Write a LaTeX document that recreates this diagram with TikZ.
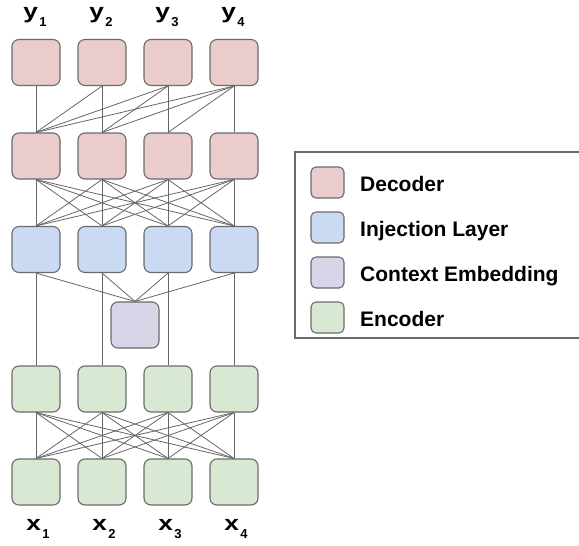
\documentclass[tikz,border=0pt]{standalone}
\usepackage{fontspec}
\setmainfont{Liberation Sans}
\usetikzlibrary{positioning}
\definecolor{decRosa}{HTML}{EACCCC}
\definecolor{injAzul}{HTML}{C9DAF2}
\definecolor{ctxLila}{HTML}{D9D4E8}
\definecolor{encVerde}{HTML}{D9E8D3}
\definecolor{bordeGris}{HTML}{6B6B6B}
\definecolor{wireGris}{HTML}{666666}

\begin{document}
\begin{tikzpicture}[x=1pt, y=-1pt,
    cell/.style={draw=bordeGris, line width=1.1pt, rounded corners=7pt,
      minimum width=48pt, minimum height=46pt, inner sep=0pt},
    wire/.style={draw=wireGris, line width=0.8pt},
    lbl/.style={anchor=base, font=\fontsize{21}{21}\selectfont\bfseries}]
    \useasboundingbox (0,0) rectangle (579,546);
    \foreach \i in {1,...,4} {
      \pgfmathsetmacro{\cx}{36+66*(\i-1)}
      \node[lbl] (ylab\i) at (\cx-1,18) {\scalebox{1.25}[1]{y}\kern1.5pt\raisebox{-8.5pt}{\fontsize{13}{13}\selectfont\i}};
      \node[cell, fill=decRosa] (dtop\i) at (\cx,62.5) {};
      \node[cell, fill=decRosa] (dmid\i) at (\cx,156) {};
      \node[cell, fill=injAzul] (inj\i) at (\cx,249.5) {};
      \node[cell, fill=encVerde] (encA\i) at (\cx,389) {};
      \node[cell, fill=encVerde] (encB\i) at (\cx,482) {};
      \node[lbl] (xlab\i) at (\cx+2,530) {\scalebox{1.25}[1]{x}\kern1.5pt\raisebox{-8.5pt}{\fontsize{13}{13}\selectfont\i}};
    }
    \node[cell, fill=ctxLila] (ctx) at (135,325) {};
    \foreach \j in {1,...,4}
      \foreach \i in {1,...,\j}
        \draw[wire] (dtop\j.south) -- (dmid\i.north);
    \foreach \i in {1,...,4} {
      \foreach \j in {1,...,4} {
        \draw[wire] (dmid\i.south) -- (inj\j.north);
        \draw[wire] (encA\i.south) -- (encB\j.north);
      }
      \draw[wire] (inj\i.south) -- (ctx.north);
      \draw[wire] (inj\i.south) -- (encA\i.north);
    }
    \draw[draw=bordeGris, line width=1.1pt] (579,152) -- (295,152) -- (295,338) -- (579,338);
    \foreach \c/\t [count=\k] in {decRosa/Decoder, injAzul/Injection Layer,
        ctxLila/Context Embedding, encVerde/Encoder} {
      \node[cell, fill=\c, minimum width=33pt, minimum height=31pt, rounded corners=5pt]
        (sw\k) at (327.5,{182.5+45*(\k-1)}) {};
      \node[anchor=base west, inner sep=0pt, font=\fontsize{21}{21}\selectfont\bfseries]
        (lg\k) at (360,{191+45*(\k-1)}) {\t};
    }
\end{tikzpicture}
\end{document}
